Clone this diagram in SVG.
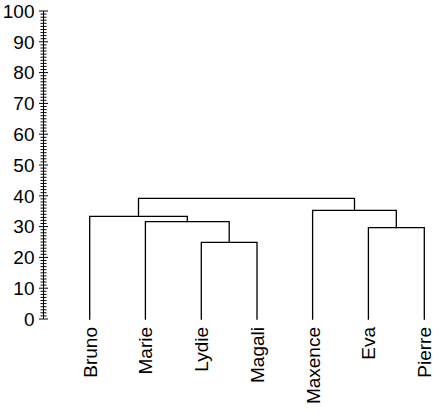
<svg xmlns="http://www.w3.org/2000/svg" width="436" height="413" viewBox="0 0 436 413">
<style>
.ln{fill:none;stroke:#000;stroke-width:1.3;stroke-linecap:square}
.tk{fill:none;stroke:#000;stroke-width:1}
text{font-family:"Liberation Sans",Arial,sans-serif;font-size:19px;fill:#000}
.ax{text-anchor:end}
.lf{text-anchor:end}
</style>
<rect width="436" height="413" fill="#fff"/>
<g id="axis">
<path class="tk" d="M43.5 319V11"/>
<path class="tk" d="M39 319h9M39 288.2h9M39 257.4h9M39 226.6h9M39 195.8h9M39 165h9M39 134.2h9M39 103.4h9M39 72.6h9M39 41.8h9M39 11h9"/>
<path class="tk" d="M40.5 315.9h6M40.5 312.8h6M40.5 309.8h6M40.5 306.7h6M40.5 303.6h6M40.5 300.5h6M40.5 297.4h6M40.5 294.4h6M40.5 291.3h6M40.5 285.1h6M40.5 282h6M40.5 279h6M40.5 275.9h6M40.5 272.8h6M40.5 269.7h6M40.5 266.6h6M40.5 263.6h6M40.5 260.5h6M40.5 254.3h6M40.5 251.2h6M40.5 248.2h6M40.5 245.1h6M40.5 242h6M40.5 238.9h6M40.5 235.8h6M40.5 232.8h6M40.5 229.7h6M40.5 223.5h6M40.5 220.4h6M40.5 217.4h6M40.5 214.3h6M40.5 211.2h6M40.5 208.1h6M40.5 205h6M40.5 202h6M40.5 198.9h6M40.5 192.7h6M40.5 189.6h6M40.5 186.6h6M40.5 183.5h6M40.5 180.4h6M40.5 177.3h6M40.5 174.2h6M40.5 171.2h6M40.5 168.1h6M40.5 161.9h6M40.5 158.8h6M40.5 155.8h6M40.5 152.7h6M40.5 149.6h6M40.5 146.5h6M40.5 143.4h6M40.5 140.4h6M40.5 137.3h6M40.5 131.1h6M40.5 128h6M40.5 125h6M40.5 121.9h6M40.5 118.8h6M40.5 115.7h6M40.5 112.6h6M40.5 109.6h6M40.5 106.5h6M40.5 100.3h6M40.5 97.2h6M40.5 94.2h6M40.5 91.1h6M40.5 88h6M40.5 84.9h6M40.5 81.8h6M40.5 78.8h6M40.5 75.7h6M40.5 69.5h6M40.5 66.4h6M40.5 63.4h6M40.5 60.3h6M40.5 57.2h6M40.5 54.1h6M40.5 51h6M40.5 48h6M40.5 44.9h6M40.5 38.7h6M40.5 35.6h6M40.5 32.6h6M40.5 29.5h6M40.5 26.4h6M40.5 23.3h6M40.5 20.2h6M40.5 17.2h6M40.5 14.1h6"/>
<text class="ax" x="34.5" y="325.8">0</text>
<text class="ax" x="34.5" y="295">10</text>
<text class="ax" x="34.5" y="264.2">20</text>
<text class="ax" x="34.5" y="233.4">30</text>
<text class="ax" x="34.5" y="202.6">40</text>
<text class="ax" x="34.5" y="171.8">50</text>
<text class="ax" x="34.5" y="141">60</text>
<text class="ax" x="34.5" y="110.2">70</text>
<text class="ax" x="34.5" y="79.4">80</text>
<text class="ax" x="34.5" y="48.6">90</text>
<text class="ax" x="34.5" y="17.8">100</text>
</g>
<g id="connectors">
<path class="ln" d="M201.3 319V242.3H257V319"/>
<path class="ln" d="M145.4 319V221.7H229.2V242.3"/>
<path class="ln" d="M89.7 319V216.3H187.3V221.7"/>
<path class="ln" d="M368.4 319V227.7H424.3V319"/>
<path class="ln" d="M312.6 319V210.3H396.3V227.7"/>
<path class="ln" d="M138.5 216.3V198.3H354.5V210.3"/>
</g>
<g id="bruno"><text class="lf" transform="translate(96.7 327) rotate(-90)">Bruno</text></g>
<g id="marie"><text class="lf" transform="translate(152.4 327) rotate(-90)">Marie</text></g>
<g id="lydie"><text class="lf" transform="translate(208.3 327) rotate(-90)">Lydie</text></g>
<g id="magali"><text class="lf" transform="translate(264 327) rotate(-90)">Magali</text></g>
<g id="maxence"><text class="lf" transform="translate(319.6 327) rotate(-90)">Maxence</text></g>
<g id="eva"><text class="lf" transform="translate(375.4 327) rotate(-90)">Eva</text></g>
<g id="pierre"><text class="lf" transform="translate(431.3 327) rotate(-90)">Pierre</text></g>
</svg>
